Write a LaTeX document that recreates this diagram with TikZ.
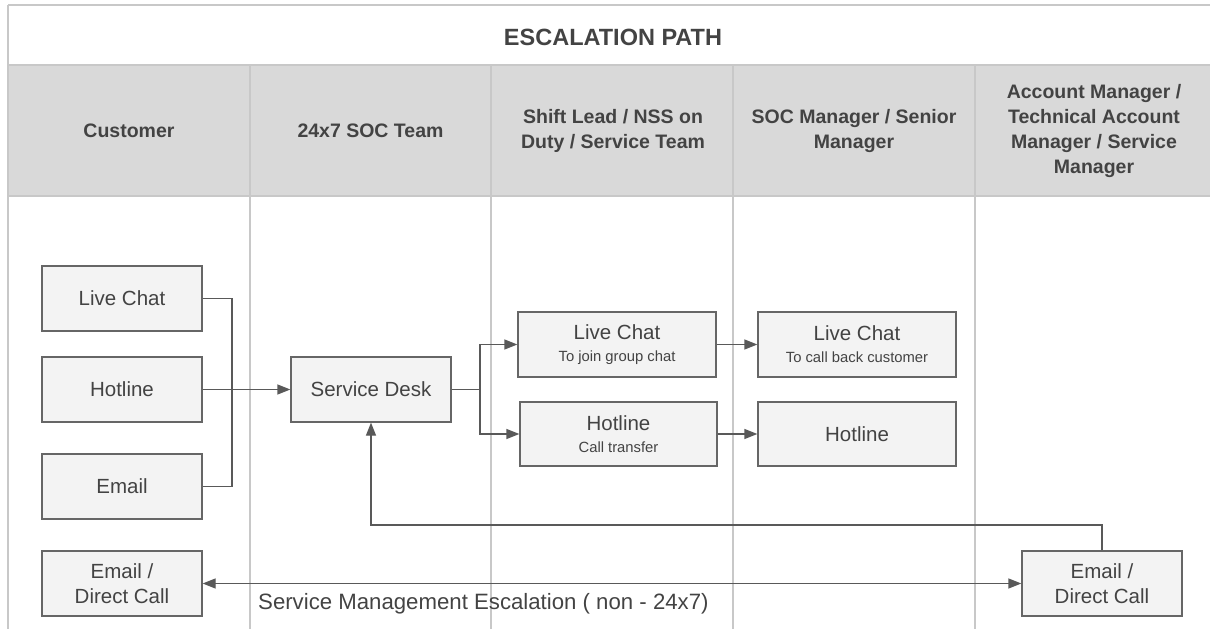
\documentclass[tikz,border=0pt]{standalone}
\usepackage{fontspec}
\setmainfont{Liberation Sans}
\usetikzlibrary{arrows.meta}
\definecolor{gridc}{HTML}{C8C8C8}
\definecolor{headf}{HTML}{D9D9D9}
\definecolor{boxf}{HTML}{F3F3F3}
\definecolor{boxd}{HTML}{666666}
\definecolor{txt}{HTML}{434343}
\definecolor{arr}{HTML}{595959}
\newcommand\subtxt{\fontsize{14.8}{16}\selectfont}
\tikzset{
  grid/.style={draw=gridc,line width=1.5pt},
  hdr/.style={font=\bfseries\fontsize{19.5}{25}\selectfont,text=txt,align=center},
  bx/.style={draw=boxd,fill=boxf,line width=1.3pt,minimum width=160pt,minimum height=65pt,
    font=\fontsize{20.5}{25}\selectfont,text=txt,align=center,inner sep=0pt},
  conn/.style={draw=arr,line width=1.3pt},
  arw/.style={conn,-{Triangle[length=13pt,width=10pt]}},
  darw/.style={conn,{Triangle[length=13pt,width=10pt]}-{Triangle[length=13pt,width=10pt]}}
}
\begin{document}
\begin{tikzpicture}[x=1pt,y=-1pt]
\useasboundingbox (0,0) rectangle (1210,629);
% table
\fill[headf] (8,65) rectangle (1212,196);
\draw[grid] (8,5) -- (1212,5);
\draw[grid] (8,5) -- (8,630);
\draw[grid] (8,65) -- (1212,65);
\draw[grid] (8,196) -- (1212,196);
\foreach \x in {250,491,733,975} \draw[grid] (\x,65) -- (\x,630);
\node[font=\bfseries\fontsize{23.5}{27}\selectfont,text=txt] (title) at (613,37) {ESCALATION PATH};
\node[hdr] (h1) at (129,130.5) {Customer};
\node[hdr] (h2) at (370.5,130.5) {24x7 SOC Team};
\node[hdr] (h3) at (613,130.5) {Shift Lead / NSS on\\Duty / Service Team};
\node[hdr] (h4) at (854,130.5) {SOC Manager / Senior\\Manager};
\node[hdr] (h5) at (1094,130.5) {Account Manager /\\Technical Account\\Manager / Service\\Manager};
% boxes
\node[bx] (clc) at (122,298.5) {Live Chat};
\node[bx] (cho) at (122,389.5) {Hotline};
\node[bx] (cem) at (122,486.5) {Email};
\node[bx] (sd) at (371,389.5) {Service Desk};
\node[bx,minimum width=198pt] (slc) at (617,344.5) {Live Chat\\[-3pt]{\subtxt To join group chat}};
\node[bx,minimum width=197pt,minimum height=64pt] (sho) at (618.5,434) {Hotline\\[-3pt]{\subtxt Call transfer}};
\node[bx,minimum width=198pt] (mlc) at (857,344.5) {Live Chat\\[-3pt]{\subtxt To call back customer}};
\node[bx,minimum width=198pt,minimum height=64pt] (mho) at (857,434) {Hotline};
\node[bx] (ldc) at (122,583.5) {Email /\\Direct Call};
\node[bx] (rdc) at (1102,583.5) {Email /\\Direct Call};
% connectors
\coordinate (merge) at (232,389.5);
\coordinate (br) at (480,389.5);
\coordinate (ret) at (1102,525);
\draw[conn] (clc.east) -| (merge);
\draw[conn] (cem.east) -| (merge);
\draw[arw] (cho.east) -- (sd.west);
\draw[conn] (sd.east) -- (br);
\draw[arw] (br) |- (slc.west);
\draw[arw] (br) |- (sho.west);
\draw[arw] (slc.east) -- (mlc.west);
\draw[arw] (sho.east) -- (mho.west);
\draw[arw] (rdc.north) -- (ret) -| (sd.south);
\draw[darw] (ldc.east) -- (rdc.west);
\node[anchor=west,font=\fontsize{22.2}{24}\selectfont,text=txt,inner sep=0pt] (lbl) at (258,604) {Service Management Escalation ( non - 24x7)};
\end{tikzpicture}
\end{document}
